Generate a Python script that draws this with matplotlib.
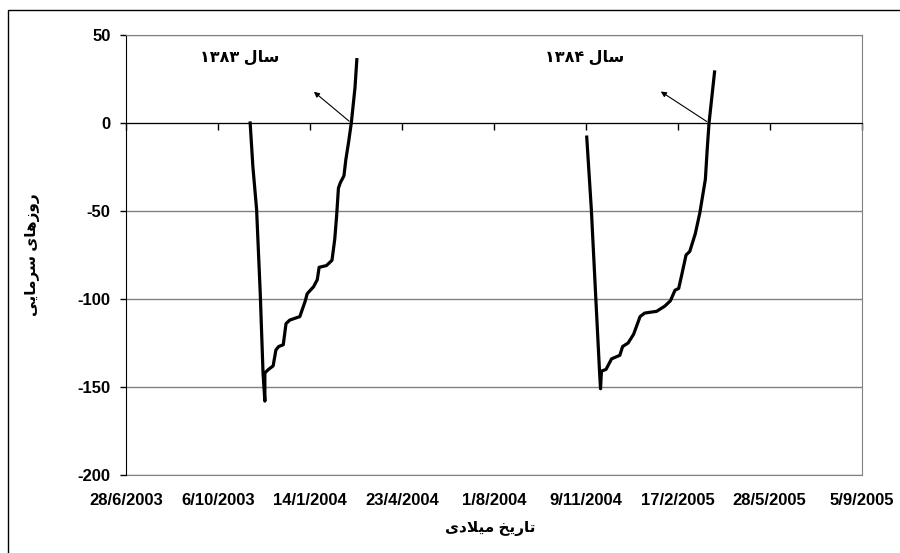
import pandas as pd
import matplotlib
matplotlib.use('Agg')
import matplotlib.pyplot as plt
import matplotlib.dates as mdates
from matplotlib.patches import Rectangle

# روزهای سرمایی - سال ۱۳۸۳
dates_1383 = ['2003-11-10', '2003-11-13', '2003-11-17', '2003-11-21', '2003-11-24', '2003-11-26',
              '2003-11-26', '2003-11-30', '2003-12-05', '2003-12-08', '2003-12-11', '2003-12-16',
              '2003-12-19', '2003-12-23', '2004-01-03', '2004-01-09', '2004-01-11', '2004-01-18',
              '2004-01-22', '2004-01-24', '2004-02-01', '2004-02-07', '2004-02-10', '2004-02-12',
              '2004-02-14', '2004-02-16', '2004-02-20', '2004-02-22', '2004-02-25', '2004-02-28',
              '2004-03-03', '2004-03-05']
cold_1383 = [0, -25, -49, -97, -142, -158,
             -142, -140, -138, -129, -127, -126,
             -114, -112, -110, -101, -97, -93,
             -89, -82, -81, -78, -66, -53,
             -37, -34, -30, -21, -11, 0,
             20, 36]

# سال ۱۳۸۴
dates_1384 = ['2004-11-10', '2004-11-15', '2004-11-20', '2004-11-24', '2004-11-25',
              '2004-11-26', '2004-12-01', '2004-12-07', '2004-12-16', '2004-12-19', '2004-12-25',
              '2004-12-31', '2005-01-07', '2005-01-12', '2005-01-25', '2005-02-03', '2005-02-09',
              '2005-02-14', '2005-02-18', '2005-02-21', '2005-02-26', '2005-03-02', '2005-03-08',
              '2005-03-13', '2005-03-19', '2005-03-21', '2005-03-23', '2005-03-29']
cold_1384 = [-8, -49, -101, -142, -151,
             -141, -140, -134, -132, -127, -125,
             -120, -110, -108, -107, -104, -101,
             -95, -94, -87, -75, -73, -63,
             -51, -32, -15, 0, 29]

x_ticks = ['28/6/2003', '6/10/2003', '14/1/2004', '23/4/2004', '1/8/2004',
           '9/11/2004', '17/2/2005', '28/5/2005', '5/9/2005']
y_ticks = [50, 0, -50, -100, -150, -200]

# Persian letters -> presentation forms (isolated, final, initial, medial)
FORMS = {
    'ا': ('\uFE8D', '\uFE8E'), 'د': ('\uFEA9', '\uFEAA'), 'ر': ('\uFEAD', '\uFEAE'),
    'ز': ('\uFEAF', '\uFEB0'), 'و': ('\uFEED', '\uFEEE'),
    'ت': ('\uFE95', '\uFE96', '\uFE97', '\uFE98'), 'خ': ('\uFEA5', '\uFEA6', '\uFEA7', '\uFEA8'),
    'س': ('\uFEB1', '\uFEB2', '\uFEB3', '\uFEB4'), 'ل': ('\uFEDD', '\uFEDE', '\uFEDF', '\uFEE0'),
    'م': ('\uFEE1', '\uFEE2', '\uFEE3', '\uFEE4'), 'ه': ('\uFEE9', '\uFEEA', '\uFEEB', '\uFEEC'),
    'ی': ('\uFEEF', '\uFEF0', '\uFEF3', '\uFEF4'),
}


def shape_word(word):
    out = []
    i = 0
    while i < len(word):
        c = word[i]
        if c not in FORMS:
            out.append(c)
            i += 1
            continue
        prev = word[i - 1] if i > 0 else ''
        joins_prev = prev in FORMS and len(FORMS[prev]) == 4
        if c == 'ل' and i + 1 < len(word) and word[i + 1] == 'ا':
            out.append('\uFEFC' if joins_prev else '\uFEFB')
            i += 2
            continue
        nxt = word[i + 1] if i + 1 < len(word) else ''
        joins_next = len(FORMS[c]) == 4 and nxt in FORMS
        f = FORMS[c]
        if joins_prev and joins_next:
            out.append(f[3])
        elif joins_next:
            out.append(f[2])
        elif joins_prev:
            out.append(f[1])
        else:
            out.append(f[0])
        i += 1
    return ''.join(out)


def fa(text):
    # visual order for matplotlib (no bidi support)
    words = text.split(' ')
    vis = []
    for w in reversed(words):
        if all('\u06F0' <= ch <= '\u06F9' for ch in w):
            vis.append(w)
        else:
            vis.append(shape_word(w)[::-1])
    return ' '.join(vis)


plt.rcParams['font.family'] = ['Liberation Sans', 'DejaVu Sans']
plt.rcParams['axes.unicode_minus'] = False

d1 = pd.to_datetime(dates_1383)
d2 = pd.to_datetime(dates_1384)
tick_dates = pd.to_datetime(x_ticks, format='%d/%m/%Y')
tick_nums = mdates.date2num(tick_dates)

fig = plt.figure(figsize=(9, 5.53), dpi=100)
ax = fig.add_axes([126 / 900, 1 - 475 / 553, (861.7 - 126) / 900, 440 / 553])

ax.plot(mdates.date2num(d1), cold_1383, color='black', lw=2.3, solid_joinstyle='round')
ax.plot(mdates.date2num(d2), cold_1384, color='black', lw=2.3, solid_joinstyle='round')

ax.set_xlim(tick_nums[0], tick_nums[-1])
ax.set_ylim(-200, 50)
ax.set_yticks(y_ticks)
ax.set_xticks(tick_nums)
ax.yaxis.grid(True, color='#808080', lw=1)
ax.set_axisbelow(True)

# horizontal axis crosses at 0, labels stay at the bottom
ax.spines['bottom'].set_position(('data', 0))
ax.spines['bottom'].set_color('black')
ax.spines['left'].set_color('black')
ax.spines['top'].set_color('#808080')
ax.spines['right'].set_color('#808080')
ax.tick_params(axis='x', direction='out', length=5, width=1, labelbottom=False)
ax.tick_params(axis='y', direction='out', length=4, width=1, pad=7)
for lab in ax.get_yticklabels():
    lab.set_fontweight('bold')
    lab.set_fontsize(12)

sec = ax.secondary_xaxis('bottom')
sec.set_xticks(tick_nums)
sec.set_xticklabels(x_ticks, fontweight='bold', fontsize=12)
sec.tick_params(length=0, pad=13)
sec.spines['bottom'].set_color('#808080')

# arrows and year labels
arrow = dict(arrowstyle='-|>', color='black', lw=0.8, mutation_scale=8)
ax.annotate('', xy=(mdates.date2num(pd.Timestamp('2004-01-16')), 18.75),
            xytext=(mdates.date2num(pd.Timestamp('2004-02-28')), 0), arrowprops=arrow)
ax.annotate('', xy=(mdates.date2num(pd.Timestamp('2005-01-27')), 18.75),
            xytext=(mdates.date2num(pd.Timestamp('2005-03-23')), 0), arrowprops=arrow)
ax.text(mdates.date2num(pd.Timestamp('2003-10-30')), 37.5, fa('سال ۱۳۸۳'),
        ha='center', va='center', fontsize=11.5, fontweight='bold')
ax.text(mdates.date2num(pd.Timestamp('2004-11-08')), 37.5, fa('سال ۱۳۸۴'),
        ha='center', va='center', fontsize=11.5, fontweight='bold')

fig.text(32 / 900, 1 - 255 / 553, fa('روزهای سرمایی'), rotation=90,
         ha='center', va='center', fontsize=11, fontweight='bold')
fig.text(490 / 900, 1 - 528 / 553, fa('تاریخ میلادی'),
         ha='center', va='center', fontsize=11, fontweight='bold')

# outer chart frame
fig.add_artist(Rectangle((8 / 900, -0.1), 1.2, 1.1 - 10 / 553, transform=fig.transFigure,
                         fill=False, ec='black', lw=1))

fig.savefig('out.png', dpi=100)
